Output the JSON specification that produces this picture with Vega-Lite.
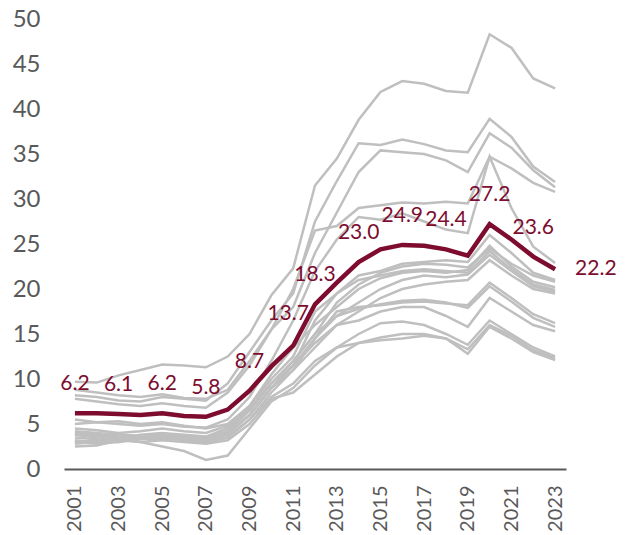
{
  "$schema": "https://vega.github.io/schema/vega-lite/v6.json",
  "width": 502,
  "height": 450,
  "autosize": {"type": "none"},
  "padding": {"left": 64, "top": 19, "right": 60, "bottom": 66},
  "background": "white",
  "config": {"view": {"stroke": null}, "font": "Lato"},
  "data": {"values": [
    {"year": 2001, "main": 6.2, "g1": 9.7, "g2": 8.2, "g3": 7.8, "g4": 8.8, "g5": 5.0, "g6": 4.0, "g7": 3.5, "g8": 4.5, "g9": 3.8, "g10": 5.5, "g11": 3.0, "g12": 4.2, "g13": 3.2, "g14": 3.8, "g15": 2.8, "g16": 3.0, "g17": 2.5},
    {"year": 2002, "main": 6.2, "g1": 9.6, "g2": 8.0, "g3": 7.5, "g4": 8.5, "g5": 5.2, "g6": 3.8, "g7": 3.3, "g8": 4.3, "g9": 3.6, "g10": 5.2, "g11": 3.2, "g12": 4.0, "g13": 3.0, "g14": 3.5, "g15": 3.0, "g16": 2.8, "g17": 2.6},
    {"year": 2003, "main": 6.1, "g1": 10.4, "g2": 7.6, "g3": 7.2, "g4": 8.2, "g5": 5.0, "g6": 3.5, "g7": 3.2, "g8": 4.0, "g9": 3.8, "g10": 5.3, "g11": 3.0, "g12": 3.8, "g13": 3.2, "g14": 3.4, "g15": 3.3, "g16": 3.0, "g17": 3.2},
    {"year": 2004, "main": 6.0, "g1": 11.0, "g2": 7.5, "g3": 7.0, "g4": 8.0, "g5": 4.8, "g6": 3.6, "g7": 3.5, "g8": 4.2, "g9": 3.7, "g10": 5.0, "g11": 3.3, "g12": 3.6, "g13": 3.4, "g14": 3.8, "g15": 3.0, "g16": 3.5, "g17": 3.0},
    {"year": 2005, "main": 6.2, "g1": 11.6, "g2": 8.0, "g3": 7.3, "g4": 8.3, "g5": 5.0, "g6": 3.8, "g7": 3.8, "g8": 4.5, "g9": 3.5, "g10": 5.2, "g11": 3.5, "g12": 3.8, "g13": 3.6, "g14": 4.0, "g15": 2.5, "g16": 3.2, "g17": 3.2},
    {"year": 2006, "main": 5.9, "g1": 11.5, "g2": 7.8, "g3": 7.0, "g4": 7.9, "g5": 4.7, "g6": 3.5, "g7": 3.6, "g8": 4.2, "g9": 3.2, "g10": 4.8, "g11": 3.3, "g12": 3.6, "g13": 3.4, "g14": 3.8, "g15": 2.0, "g16": 3.0, "g17": 3.5},
    {"year": 2007, "main": 5.8, "g1": 11.3, "g2": 7.6, "g3": 6.8, "g4": 7.8, "g5": 4.6, "g6": 3.3, "g7": 3.5, "g8": 4.0, "g9": 3.0, "g10": 4.5, "g11": 3.2, "g12": 3.5, "g13": 3.3, "g14": 3.6, "g15": 1.0, "g16": 2.8, "g17": 3.0},
    {"year": 2008, "main": 6.6, "g1": 12.5, "g2": 9.5, "g3": 8.5, "g4": 8.8, "g5": 5.5, "g6": 4.0, "g7": 4.5, "g8": 4.8, "g9": 3.5, "g10": 5.0, "g11": 3.8, "g12": 4.0, "g13": 4.2, "g14": 4.5, "g15": 1.5, "g16": 3.2, "g17": 3.5},
    {"year": 2009, "main": 8.7, "g1": 15.0, "g2": 13.0, "g3": 11.5, "g4": 12.0, "g5": 8.0, "g6": 6.0, "g7": 6.5, "g8": 7.0, "g9": 5.5, "g10": 7.0, "g11": 6.0, "g12": 6.0, "g13": 6.5, "g14": 6.8, "g15": 4.5, "g16": 5.0, "g17": 5.5},
    {"year": 2010, "main": 11.4, "g1": 19.3, "g2": 16.5, "g3": 15.5, "g4": 15.5, "g5": 12.0, "g6": 9.0, "g7": 9.5, "g8": 10.5, "g9": 8.5, "g10": 10.0, "g11": 9.0, "g12": 9.0, "g13": 9.5, "g14": 9.5, "g15": 7.5, "g16": 7.8, "g17": 8.0},
    {"year": 2011, "main": 13.7, "g1": 22.3, "g2": 19.5, "g3": 18.0, "g4": 20.0, "g5": 16.5, "g6": 11.5, "g7": 12.0, "g8": 13.5, "g9": 11.0, "g10": 12.5, "g11": 11.0, "g12": 11.5, "g13": 12.0, "g14": 11.5, "g15": 9.0, "g16": 8.5, "g17": 9.5},
    {"year": 2012, "main": 18.3, "g1": 31.5, "g2": 27.5, "g3": 24.0, "g4": 26.5, "g5": 22.0, "g6": 16.5, "g7": 15.0, "g8": 16.0, "g9": 14.5, "g10": 17.5, "g11": 13.5, "g12": 14.5, "g13": 15.0, "g14": 14.0, "g15": 11.5, "g16": 10.5, "g17": 12.0},
    {"year": 2013, "main": 20.7, "g1": 34.5, "g2": 32.0, "g3": 28.5, "g4": 27.0, "g5": 25.5, "g6": 19.5, "g7": 18.5, "g8": 18.0, "g9": 17.0, "g10": 19.5, "g11": 16.0, "g12": 17.5, "g13": 17.0, "g14": 16.0, "g15": 13.5, "g16": 12.5, "g17": 13.5},
    {"year": 2014, "main": 23.0, "g1": 38.8, "g2": 36.2, "g3": 33.0, "g4": 29.0, "g5": 28.0, "g6": 21.5, "g7": 20.5, "g8": 20.0, "g9": 18.5, "g10": 21.0, "g11": 17.5, "g12": 18.0, "g13": 17.8, "g14": 16.5, "g15": 15.0, "g16": 14.0, "g17": 14.0},
    {"year": 2015, "main": 24.4, "g1": 41.9, "g2": 36.0, "g3": 35.4, "g4": 29.3, "g5": 27.7, "g6": 22.0, "g7": 21.8, "g8": 21.2, "g9": 20.0, "g10": 21.5, "g11": 19.0, "g12": 18.2, "g13": 18.3, "g14": 17.5, "g15": 16.2, "g16": 14.6, "g17": 14.3},
    {"year": 2016, "main": 24.9, "g1": 43.1, "g2": 36.6, "g3": 35.2, "g4": 29.6, "g5": 28.4, "g6": 22.8, "g7": 22.5, "g8": 21.8, "g9": 21.0, "g10": 22.0, "g11": 20.0, "g12": 18.5, "g13": 18.7, "g14": 18.0, "g15": 16.4, "g16": 15.0, "g17": 14.5},
    {"year": 2017, "main": 24.8, "g1": 42.8, "g2": 36.1, "g3": 35.0, "g4": 29.5, "g5": 27.5, "g6": 23.0, "g7": 22.8, "g8": 22.0, "g9": 21.5, "g10": 22.2, "g11": 20.5, "g12": 18.6, "g13": 18.8, "g14": 18.0, "g15": 16.0, "g16": 15.0, "g17": 14.8},
    {"year": 2018, "main": 24.4, "g1": 42.0, "g2": 35.4, "g3": 34.3, "g4": 29.7, "g5": 26.6, "g6": 23.2, "g7": 22.7, "g8": 21.8, "g9": 21.3, "g10": 22.0, "g11": 20.8, "g12": 18.4, "g13": 18.5, "g14": 17.0, "g15": 15.0, "g16": 14.5, "g17": 14.5},
    {"year": 2019, "main": 23.7, "g1": 41.8, "g2": 35.2, "g3": 33.0, "g4": 29.5, "g5": 26.2, "g6": 23.0, "g7": 22.4, "g8": 22.1, "g9": 21.6, "g10": 21.8, "g11": 21.0, "g12": 18.2, "g13": 17.9, "g14": 15.8, "g15": 13.8, "g16": 13.3, "g17": 12.8},
    {"year": 2020, "main": 27.2, "g1": 48.3, "g2": 38.9, "g3": 37.3, "g4": 34.7, "g5": 34.7, "g6": 26.0, "g7": 24.5, "g8": 24.8, "g9": 23.8, "g10": 24.2, "g11": 23.2, "g12": 20.7, "g13": 20.3, "g14": 19.0, "g15": 16.5, "g16": 16.0, "g17": 15.8},
    {"year": 2021, "main": 25.5, "g1": 46.8, "g2": 36.9, "g3": 35.7, "g4": 33.4, "g5": 29.0, "g6": 24.0, "g7": 22.8, "g8": 22.5, "g9": 22.0, "g10": 22.2, "g11": 21.5, "g12": 19.0, "g13": 18.6, "g14": 17.5, "g15": 15.0, "g16": 14.8, "g17": 14.5},
    {"year": 2022, "main": 23.6, "g1": 43.4, "g2": 33.6, "g3": 33.2, "g4": 31.8, "g5": 24.7, "g6": 21.8, "g7": 21.5, "g8": 20.8, "g9": 20.3, "g10": 20.5, "g11": 20.0, "g12": 17.2, "g13": 16.8, "g14": 16.0, "g15": 13.5, "g16": 13.2, "g17": 13.0},
    {"year": 2023, "main": 22.2, "g1": 42.3, "g2": 31.9, "g3": 31.3, "g4": 30.8, "g5": 22.9, "g6": 21.0, "g7": 20.8, "g8": 20.2, "g9": 19.7, "g10": 19.9, "g11": 19.5, "g12": 16.2, "g13": 15.8, "g14": 15.3, "g15": 12.5, "g16": 12.3, "g17": 12.1}
  ]},
  "encoding": {
    "x": {
      "field": "year", "type": "quantitative",
      "scale": {"domain": [2000.5, 2023.5], "nice": false, "zero": false},
      "axis": {
        "title": null, "values": [2001, 2003, 2005, 2007, 2009, 2011, 2013, 2015, 2017, 2019, 2021, 2023],
        "format": "d", "labelAngle": -90, "labelAlign": "right", "labelBaseline": "middle",
        "ticks": false, "grid": false, "domainColor": "#595959", "domainWidth": 2,
        "labelFontSize": 20, "labelColor": "#595959", "labelPadding": 16, "labelFlush": false, "labelOverlap": false
      }
    }
  },
  "layer": [
    {
      "transform": [{"fold": ["g1", "g2", "g3", "g4", "g5", "g6", "g7", "g8", "g9", "g10", "g11", "g12", "g13", "g14", "g15", "g16", "g17"], "as": ["series", "value"]}],
      "mark": {"type": "line", "color": "#bfbfbf", "strokeWidth": 2.5},
      "encoding": {
        "y": {
          "field": "value", "type": "quantitative",
          "scale": {"domain": [0, 50], "nice": false},
          "axis": {"title": null, "values": [0, 5, 10, 15, 20, 25, 30, 35, 40, 45, 50], "ticks": false, "domain": false, "grid": false, "labelFontSize": 24, "labelColor": "#595959", "labelPadding": 24}
        },
        "detail": {"field": "series", "type": "nominal"}
      }
    },
    {
      "mark": {"type": "line", "color": "#7d0c2f", "strokeWidth": 4.5},
      "encoding": {"y": {"field": "main", "type": "quantitative"}}
    },
    {
      "transform": [{"filter": {"field": "year", "oneOf": [2001, 2003, 2005, 2007, 2009, 2012, 2014, 2016, 2018, 2020, 2022]}}],
      "mark": {"type": "text", "color": "#7d0c2f", "fontSize": 21, "dy": -23, "baseline": "alphabetic", "align": "center"},
      "encoding": {"y": {"field": "main", "type": "quantitative"}, "text": {"field": "main", "format": ".1f"}}
    },
    {
      "transform": [{"filter": {"field": "year", "equal": 2011}}],
      "mark": {"type": "text", "color": "#7d0c2f", "fontSize": 21, "dy": -26, "dx": -5, "baseline": "alphabetic", "align": "center"},
      "encoding": {"y": {"field": "main", "type": "quantitative"}, "text": {"field": "main", "format": ".1f"}}
    },
    {
      "transform": [{"filter": {"field": "year", "equal": 2023}}],
      "mark": {"type": "text", "color": "#7d0c2f", "fontSize": 21, "dx": 20, "baseline": "middle", "align": "left"},
      "encoding": {"y": {"field": "main", "type": "quantitative"}, "text": {"field": "main", "format": ".1f"}}
    }
  ]
}
